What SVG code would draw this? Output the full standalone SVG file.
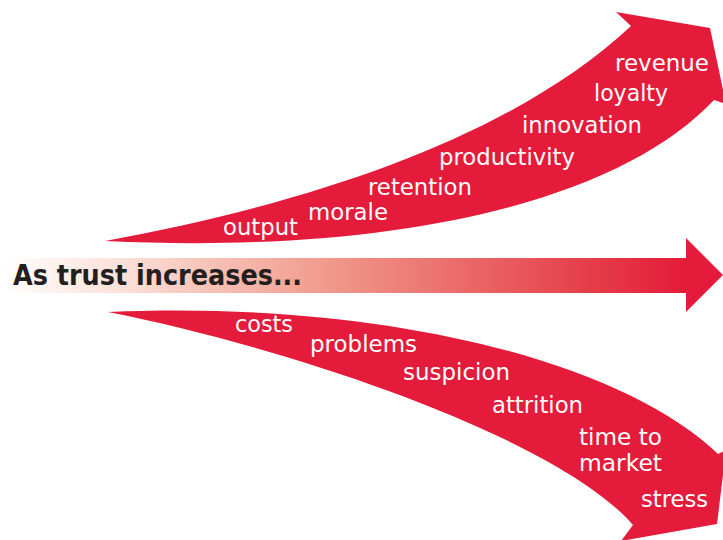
<svg xmlns="http://www.w3.org/2000/svg" width="723" height="540" viewBox="0 0 723 540">
  <defs>
    <linearGradient id="trustGrad" x1="0" y1="0" x2="686" y2="0" gradientUnits="userSpaceOnUse">
      <stop offset="0" stop-color="#ffffff"/>
      <stop offset="0.17" stop-color="#fbe2da"/>
      <stop offset="0.48" stop-color="#f0998b"/>
      <stop offset="0.85" stop-color="#e5404a"/>
      <stop offset="1" stop-color="#e41b3a"/>
    </linearGradient>
    <style>
      .red { fill: #e41b3a; }
      .lbl { font-family: "DejaVu Sans", Verdana, sans-serif; font-size: 23.5px; fill: #ffffff; }
      .title { font-family: "DejaVu Sans", Verdana, sans-serif; font-size: 29px; font-weight: bold; fill: #231f20; }
    </style>
  </defs>
  <rect width="723" height="540" fill="#ffffff"/>

  <g id="connectors">
    <path id="arrow-up" class="red" d="M105,241 C330,200 520,130 631,26 L616,12 L710,28 L726,104 L714,100 C620,200 400,255 105,241 Z"/>
    <g id="arrow-middle">
      <rect x="7" y="258" width="680" height="35" fill="url(#trustGrad)"/>
      <polygon class="red" points="686,238 723,275 686,312"/>
    </g>
    <path id="arrow-down" class="red" d="M108,312 C380,300 620,360 718,454 L726,450 L717,524 L621,541 L633,525 C560,440 300,350 108,312 Z"/>
  </g>

  <g id="title">
    <text class="title" x="13" y="285" textLength="289" lengthAdjust="spacingAndGlyphs">As trust increases...</text>
  </g>

  <g id="increases">
    <text class="lbl" x="615" y="71" textLength="94" lengthAdjust="spacingAndGlyphs">revenue</text>
    <text class="lbl" x="594" y="101" textLength="74" lengthAdjust="spacingAndGlyphs">loyalty</text>
    <text class="lbl" x="522" y="133" textLength="120" lengthAdjust="spacingAndGlyphs">innovation</text>
    <text class="lbl" x="439" y="165" textLength="136" lengthAdjust="spacingAndGlyphs">productivity</text>
    <text class="lbl" x="368" y="195" textLength="104" lengthAdjust="spacingAndGlyphs">retention</text>
    <text class="lbl" x="308" y="220" textLength="80" lengthAdjust="spacingAndGlyphs">morale</text>
    <text class="lbl" x="223" y="235" textLength="75" lengthAdjust="spacingAndGlyphs">output</text>
  </g>

  <g id="decreases">
    <text class="lbl" x="235" y="332" textLength="58" lengthAdjust="spacingAndGlyphs">costs</text>
    <text class="lbl" x="310" y="352" textLength="107" lengthAdjust="spacingAndGlyphs">problems</text>
    <text class="lbl" x="403" y="380" textLength="107" lengthAdjust="spacingAndGlyphs">suspicion</text>
    <text class="lbl" x="492" y="413" textLength="91" lengthAdjust="spacingAndGlyphs">attrition</text>
    <text class="lbl" x="579" y="445" textLength="83" lengthAdjust="spacingAndGlyphs">time to</text>
    <text class="lbl" x="579" y="471" textLength="83" lengthAdjust="spacingAndGlyphs">market</text>
    <text class="lbl" x="641" y="507" textLength="67" lengthAdjust="spacingAndGlyphs">stress</text>
  </g>
</svg>
